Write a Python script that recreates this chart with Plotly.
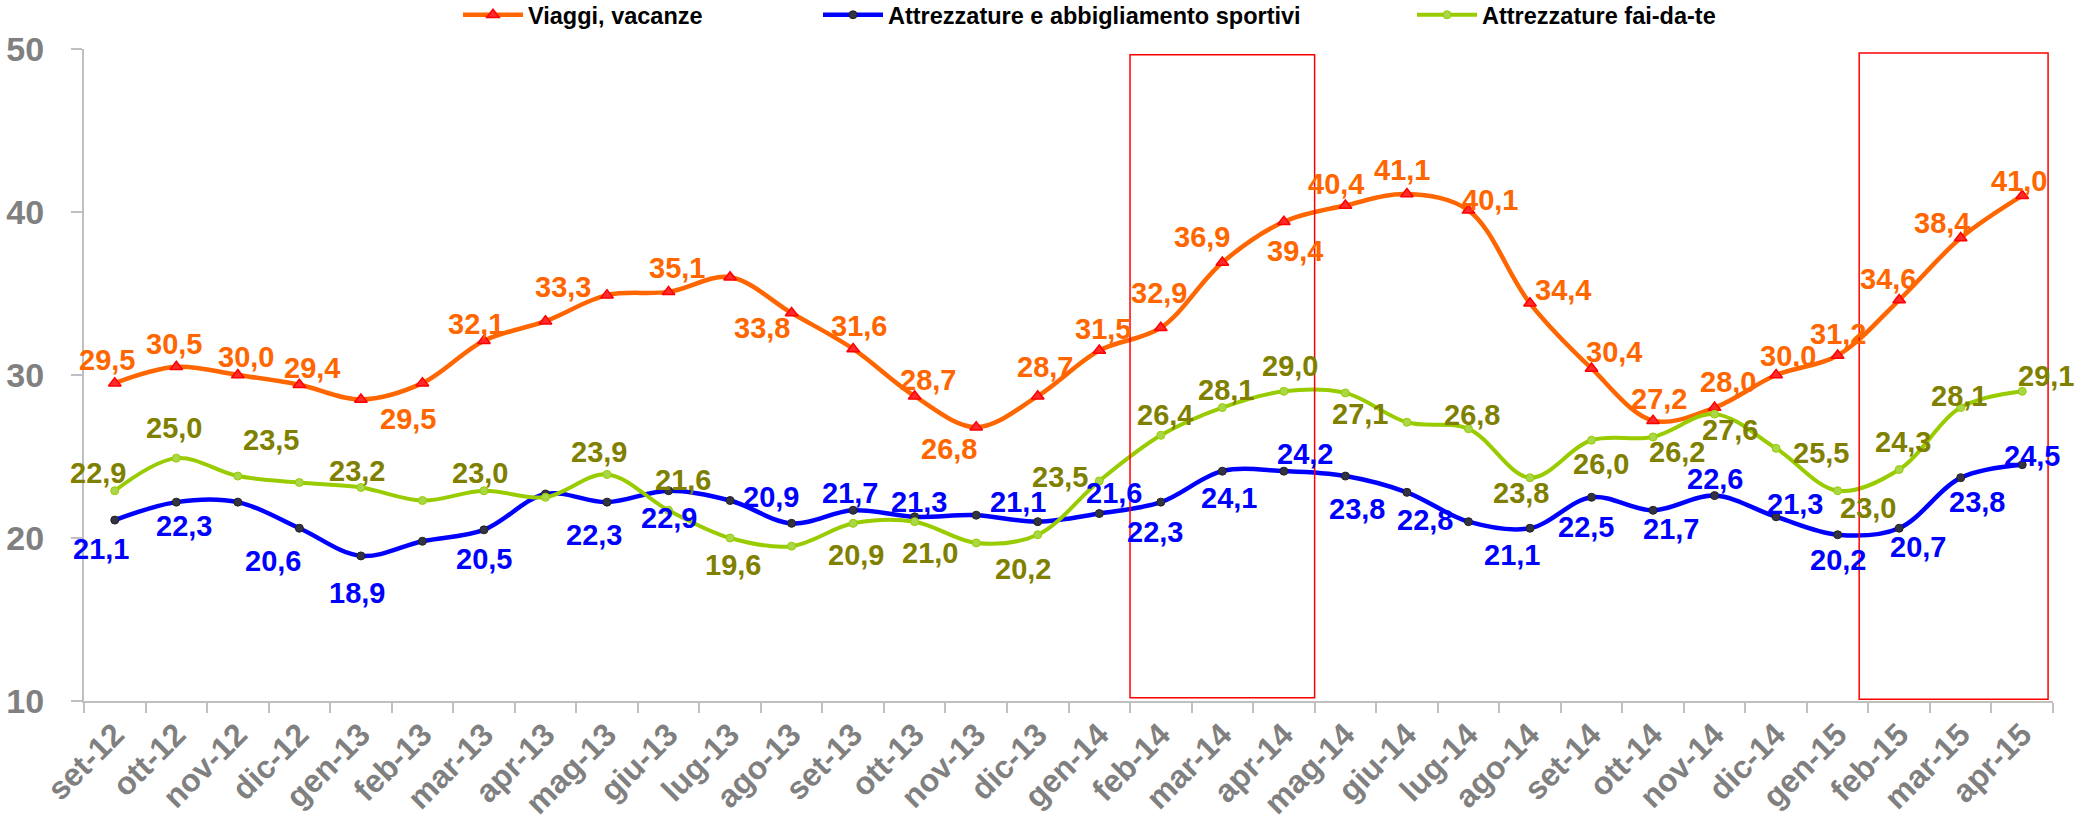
import plotly.graph_objects as go

months = ["set-12", "ott-12", "nov-12", "dic-12", "gen-13", "feb-13", "mar-13", "apr-13",
          "mag-13", "giu-13", "lug-13", "ago-13", "set-13", "ott-13", "nov-13", "dic-13",
          "gen-14", "feb-14", "mar-14", "apr-14", "mag-14", "giu-14", "lug-14", "ago-14",
          "set-14", "ott-14", "nov-14", "dic-14", "gen-15", "feb-15", "mar-15", "apr-15"]

viaggi = [29.5, 30.5, 30.0, 29.4, 28.5, 29.5, 32.1, 33.3, 34.9, 35.1, 36.0, 33.8,
          31.6, 28.7, 26.8, 28.7, 31.5, 32.9, 36.9, 39.4, 40.4, 41.1, 40.1, 34.4,
          30.4, 27.2, 28.0, 30.0, 31.2, 34.6, 38.4, 41.0]
sport = [21.1, 22.2, 22.2, 20.6, 18.9, 19.8, 20.5, 22.7, 22.2, 22.9, 22.3, 20.9,
         21.7, 21.3, 21.4, 21.0, 21.5, 22.2, 24.1, 24.1, 23.8, 22.8, 21.0, 20.6,
         22.5, 21.7, 22.6, 21.3, 20.2, 20.6, 23.7, 24.5]
faidate = [22.9, 24.9, 23.8, 23.4, 23.1, 22.3, 22.9, 22.5, 23.9, 21.7, 20.0, 19.5,
           20.9, 21.0, 19.7, 20.2, 23.5, 26.3, 28.0, 29.0, 28.9, 27.1, 26.7, 23.7,
           26.0, 26.2, 27.6, 25.5, 22.9, 24.2, 28.0, 29.0]

# data labels as printed on the chart (None = no label shown)
viaggi_lab = [29.5, 30.5, 30.0, 29.4, None, 29.5, 32.1, 33.3, None, 35.1, None, 33.8,
              31.6, 28.7, 26.8, 28.7, 31.5, 32.9, 36.9, 39.4, 40.4, 41.1, 40.1, 34.4,
              30.4, 27.2, 28.0, 30.0, 31.2, 34.6, 38.4, 41.0]
sport_lab = [21.1, 22.3, None, 20.6, 18.9, None, 20.5, None, 22.3, 22.9, None, 20.9,
             21.7, 21.3, None, 21.1, 21.6, 22.3, 24.1, 24.2, 23.8, 22.8, None, 21.1,
             22.5, 21.7, 22.6, 21.3, 20.2, 20.7, 23.8, 24.5]
faidate_lab = [22.9, 25.0, None, 23.5, 23.2, None, 23.0, None, 23.9, 21.6, 19.6, None,
               20.9, 21.0, None, 20.2, 23.5, 26.4, 28.1, 29.0, None, 27.1, 26.8, 23.8,
               26.0, 26.2, 27.6, 25.5, 23.0, 24.3, 28.1, 29.1]

# label placement offsets in pixels (dx, dy up)
viaggi_off = [(-8, 23), (-2, 23), (8, 18), (13, 17), (0, 0), (-14, -36), (-8, 17), (18, 34),
              (0, 0), (8, 24), (0, 0), (-30, -15), (6, 23), (13, 16), (-27, -22), (7, 29),
              (4, 22), (-2, 35), (-20, 26), (11, -29), (-9, 21), (-5, 24), (22, 10), (33, 13),
              (22, 16), (6, 22), (13, 26), (12, 19), (0, 21), (-11, 21), (-19, 15), (-3, 15)]
sport_off = [(-14, -29), (8, -24), (0, 0), (-26, -33), (-4, -37), (0, 0), (0, -29), (0, 0),
             (-13, -33), (0, -27), (0, 0), (-21, 26), (-3, 17), (4, 15), (0, 0), (-20, 20),
             (15, 21), (-6, -30), (7, -27), (21, 17), (12, -33), (18, -28), (0, 0), (-18, -27),
             (-6, -30), (18, -19), (0, 17), (19, 13), (0, -25), (19, -19), (16, -24), (10, 9)]
faidate_off = [(-17, 18), (-2, 30), (0, 0), (-28, 43), (-4, 16), (0, 0), (-4, 18), (0, 0),
               (-8, 22), (14, 30), (3, -27), (0, 0), (3, -32), (15, -31), (0, 0), (-15, -34),
               (-39, 4), (4, 20), (4, 18), (6, 25), (0, 0), (-47, 8), (4, 14), (-9, -15),
               (9, -24), (24, -15), (15, -16), (45, -5), (30, -17), (4, 28), (-2, 12), (24, 15)]

series_names = ["Viaggi, vacanze", "Attrezzature e abbigliamento sportivi", "Attrezzature fai-da-te"]

FONT = "Liberation Sans, Arial, sans-serif"

fig = go.Figure()

fig.add_trace(go.Scatter(
    x=months, y=viaggi, name=series_names[0], mode="lines+markers",
    line=dict(color="#FF6600", width=4.5, shape="spline", smoothing=1.0),
    marker=dict(symbol="triangle-up", size=11, color="#FF2A2A",
                line=dict(color="#FF0000", width=1.5)),
    legend="legend",
))
fig.add_trace(go.Scatter(
    x=months, y=sport, name=series_names[1], mode="lines+markers",
    line=dict(color="#0000FF", width=4.5, shape="spline", smoothing=1.0),
    marker=dict(symbol="circle", size=8, color="#333344",
                line=dict(color="#222222", width=1)),
    legend="legend2",
))
fig.add_trace(go.Scatter(
    x=months, y=faidate, name=series_names[2], mode="lines+markers",
    line=dict(color="#99CC00", width=4, shape="spline", smoothing=1.0),
    marker=dict(symbol="circle", size=8, color="#A8D84A",
                line=dict(color="#99CC00", width=1)),
    legend="legend3",
))

annotations = []
for vals, labs, offs, col in [(viaggi, viaggi_lab, viaggi_off, "#FF6600"),
                              (sport, sport_lab, sport_off, "#0000FF"),
                              (faidate, faidate_lab, faidate_off, "#808000")]:
    for m, v, lab, (dx, dy) in zip(months, vals, labs, offs):
        if lab is None:
            continue
        annotations.append(dict(
            x=m, y=v, xref="x", yref="y", showarrow=False,
            text=f"{lab:.1f}".replace(".", ","),
            xshift=dx, yshift=dy, xanchor="center", yanchor="middle",
            font=dict(family=FONT, size=29, color=col, weight="bold"),
        ))

shapes = [
    dict(type="rect", xref="x", yref="y", x0=16.5, x1=19.5, y0=10.2, y1=49.65,
         line=dict(color="#FF0000", width=1.5), fillcolor="rgba(0,0,0,0)"),
    dict(type="rect", xref="x", yref="y", x0=28.35, x1=31.42, y0=10.1, y1=49.75,
         line=dict(color="#FF0000", width=1.5), fillcolor="rgba(0,0,0,0)"),
]

W, H = 2093, 822
ml, mr, mt, mb = 84, 40, 49, 121
pw = W - ml - mr
ph = H - mt - mb

def px_to_paper_x(px):
    return (px - ml) / pw

legend_y = 1 + (mt - 15) / ph
legend_common = dict(orientation="h", yanchor="middle", xanchor="left", y=legend_y,
                     font=dict(family=FONT, size=23.5, color="#000000", weight="bold"),
                     bgcolor="rgba(0,0,0,0)", itemwidth=60, borderwidth=0,
                     tracegroupgap=0)

fig.update_layout(
    width=W, height=H,
    margin=dict(l=ml, r=mr, t=mt, b=mb, pad=0, autoexpand=False),
    paper_bgcolor="white", plot_bgcolor="white",
    font=dict(family=FONT),
    showlegend=True,
    legend=dict(legend_common, x=px_to_paper_x(458)),
    legend2=dict(legend_common, x=px_to_paper_x(818)),
    legend3=dict(legend_common, x=px_to_paper_x(1412)),
    annotations=annotations,
    shapes=shapes,
    xaxis=dict(
        type="category", range=[-0.5, 31.5], tickson="boundaries",
        ticks="outside", ticklen=10, tickwidth=2, tickcolor="#C0C0C0",
        showline=True, linecolor="#C0C0C0", linewidth=2, automargin=False,
        showgrid=False, zeroline=False, tickangle=-45,
        tickfont=dict(family=FONT, size=32, color="#808080", weight="bold"),
    ),
    yaxis=dict(
        range=[10, 50], dtick=10, tick0=10, automargin=False,
        ticks="outside", ticklen=11, tickwidth=2, tickcolor="#C0C0C0",
        showline=True, linecolor="#C0C0C0", linewidth=2,
        showgrid=False, zeroline=False, ticklabelstandoff=20,
        tickfont=dict(family=FONT, size=34, color="#808080", weight="bold"),
    ),
)

fig.write_html("out.html",
               config={"displayModeBar": False},
               post_script="document.body.style.margin='0';document.body.style.padding='0';"
                           "document.body.style.overflow='hidden';")
